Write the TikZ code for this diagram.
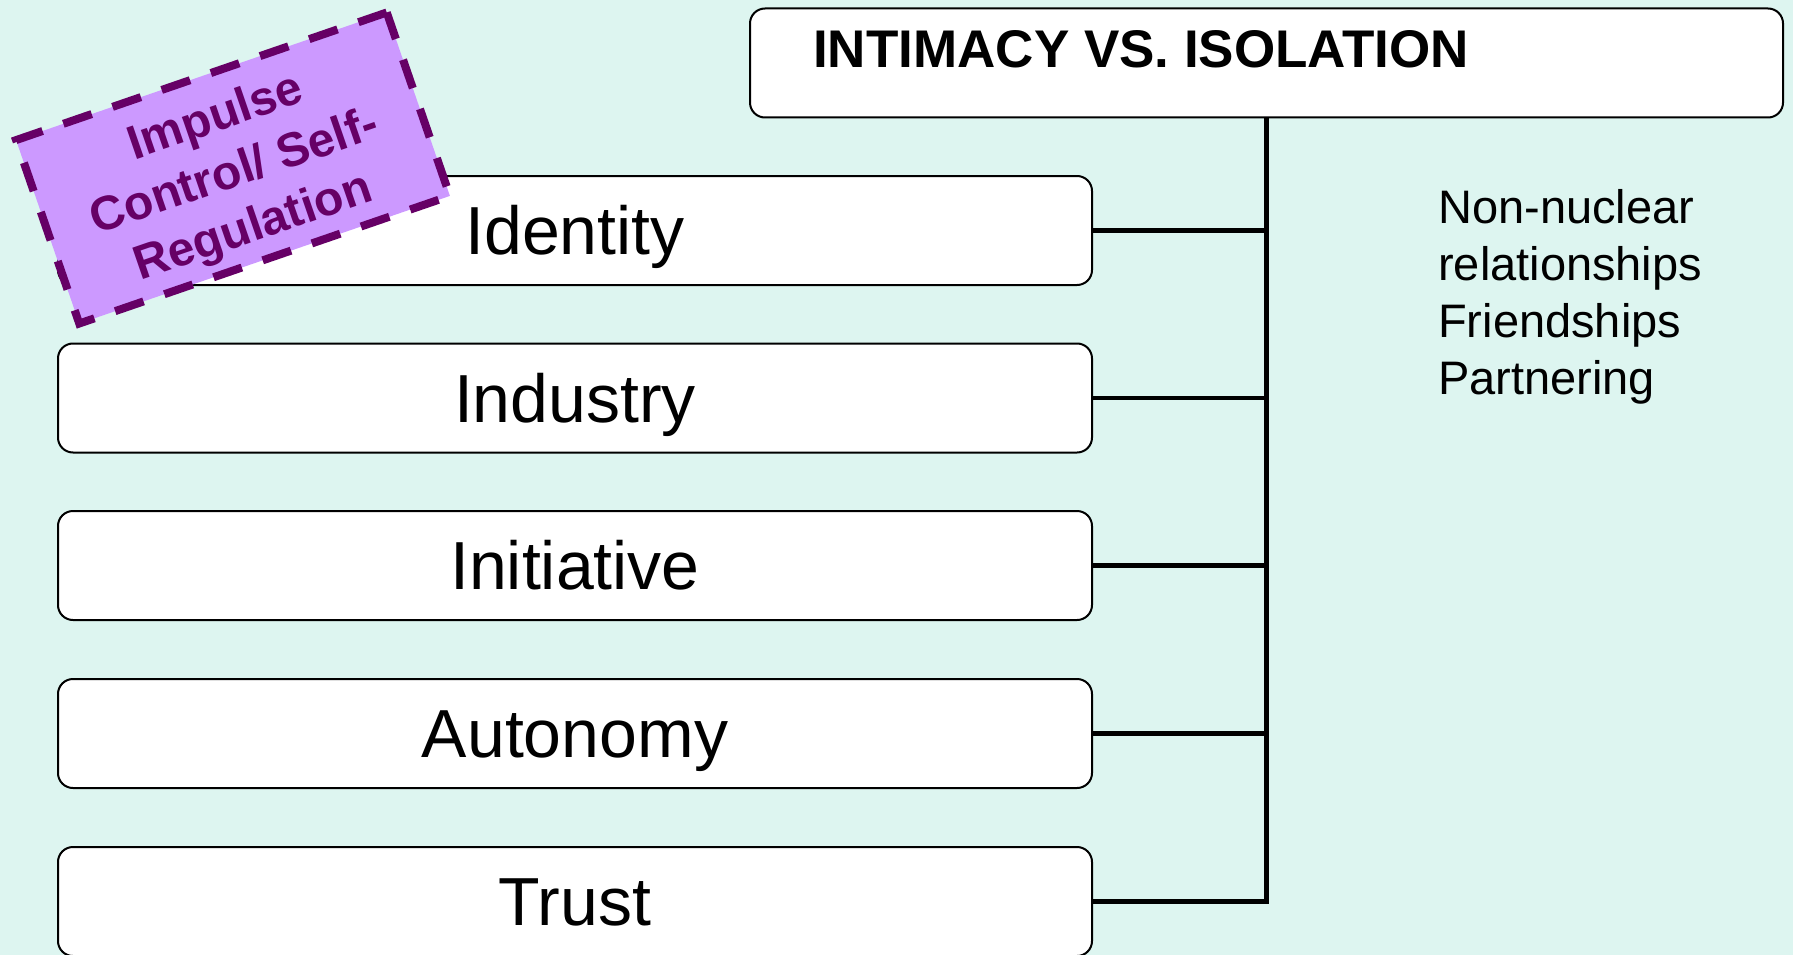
\documentclass[tikz,border=0pt]{standalone}
\usepackage{fontspec}
\setmainfont{Liberation Sans}
\definecolor{bgmint}{RGB}{221,245,240}
\definecolor{lilac}{RGB}{204,153,255}
\definecolor{plum}{RGB}{102,0,102}
\begin{document}
\begin{tikzpicture}[x=1pt,y=-1pt,
  stagebox/.style={draw=black, line width=2pt, fill=white, rounded corners=15pt,
    minimum width=1034pt, minimum height=109pt, inner sep=0pt,
    font=\fontsize{68}{80}\selectfont, text height=48.5pt, text depth=0pt},
  conn/.style={draw=black, line width=4.5pt},
  note/.style={draw=plum, line width=8pt, dash pattern=on 30pt off 22pt,
    fill=lilac, minimum width=392pt, minimum height=194pt, inner sep=0pt,
    rotate=19},
  notetext/.style={rotate=19, align=center, text=plum, inner sep=0pt,
    font=\fontsize{48}{58}\selectfont\bfseries}]
  % page and background
  \fill[bgmint] (0,0) rectangle (1793,955);
  \useasboundingbox (0,0) rectangle (1793,955);

  % goal box at the top
  \node[draw=black, line width=2pt, fill=white, rounded corners=15pt,
        minimum width=1033pt, minimum height=109pt, inner sep=0pt]
        (goal) at (1266.5,63) {};
  \node[anchor=base west, inner sep=0pt, font=\fontsize{53}{64}\selectfont\bfseries]
        (goaltext) at (813,68) {INTIMACY VS. ISOLATION};

  % stage boxes
  \node[stagebox] (identity)   at (575,230.5) {Identity};
  \node[stagebox] (industry)   at (575,398)   {Industry};
  \node[stagebox] (initiative) at (575,565.5) {Initiative};
  \node[stagebox] (autonomy)   at (575,733.5) {Autonomy};
  \node[stagebox] (trust)      at (575,901.5) {Trust};

  % bracket joining the stages to the goal
  \draw[conn] (goal.south) |- (trust.east);
  \foreach \s in {identity,industry,initiative,autonomy}
    \draw[conn] (\s.east) -- (\s.east -| goal.south);

  % list of intimacy contexts (base anchor sits on the last line)
  \node[anchor=base west, inner sep=0pt, align=left,
        font=\fontsize{47}{57}\selectfont] (contexts) at (1438,394)
        {Non-nuclear\\relationships\\Friendships\\Partnering};

  % tilted dashed note
  \node[note] (impulse) at (233,168) {};
  \node[notetext] (impulsetext) at (235,174) {Impulse\\Control/ Self-\\Regulation};
\end{tikzpicture}
\end{document}
